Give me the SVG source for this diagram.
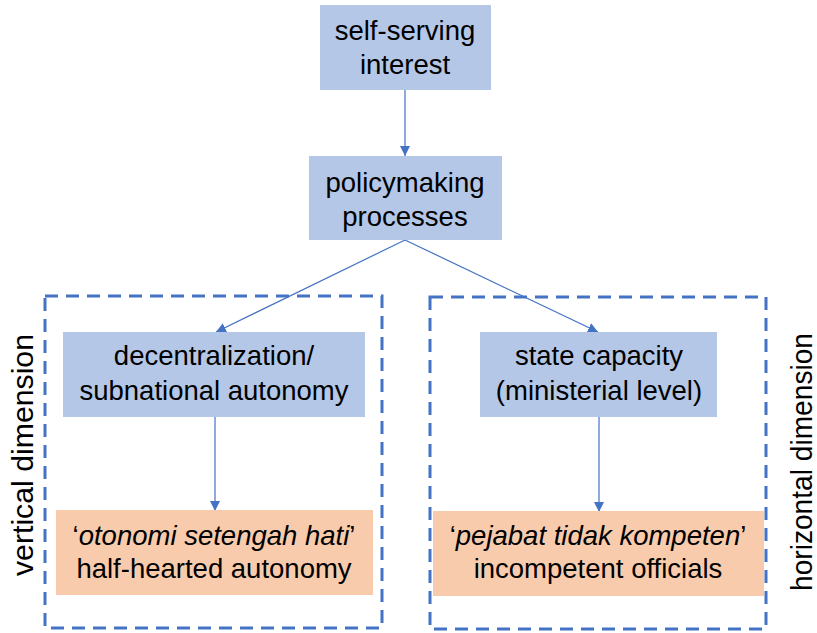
<svg xmlns="http://www.w3.org/2000/svg" width="817" height="633" viewBox="0 0 817 633">
<defs>
<marker id="ah" viewBox="0 0 10 10" refX="10" refY="5" markerWidth="10" markerHeight="10" markerUnits="userSpaceOnUse" orient="auto">
<path d="M0,0 L10,5 L0,10 z" fill="#4472C4"/>
</marker>
<style>
.blue{fill:#B4C7E7}
.orange{fill:#F8CBAD}
.dash{fill:none;stroke:#4472C4;stroke-width:3;stroke-dasharray:13 8}
.t{font-family:"Liberation Sans",Arial,sans-serif;font-size:27.5px;fill:#000;text-anchor:middle}
.i{font-style:italic}
.side{font-family:"Liberation Sans",Arial,sans-serif;font-size:29px;fill:#000;text-anchor:middle}
.conn{stroke:#4472C4;stroke-width:1.2;fill:none;marker-end:url(#ah)}
</style>
</defs>
<rect width="817" height="633" fill="#fff"/>
<g id="group-vertical">
<rect class="dash" x="45" y="296" width="337" height="332"/>
<text class="side" transform="translate(33,455) rotate(-90)" textLength="242" lengthAdjust="spacingAndGlyphs">vertical dimension</text>
</g>
<g id="group-horizontal">
<rect class="dash" x="430" y="297" width="336" height="332"/>
<text class="side" transform="translate(812,462) rotate(-90)" textLength="258" lengthAdjust="spacingAndGlyphs">horizontal dimension</text>
</g>
<g id="connectors">
<line class="conn" x1="405" y1="90" x2="405" y2="156"/>
<line class="conn" x1="405" y1="240" x2="216" y2="332"/>
<line class="conn" x1="405" y1="240" x2="598" y2="332"/>
<line class="conn" x1="215" y1="417" x2="215" y2="511"/>
<line class="conn" x1="599" y1="417" x2="599" y2="512"/>
</g>
<g id="self-serving">
<rect class="blue" x="320" y="5" width="171" height="85"/>
<text class="t" x="405" y="40">self-serving</text>
<text class="t" x="405" y="74">interest</text>
</g>
<g id="policymaking">
<rect class="blue" x="309" y="156" width="193" height="84"/>
<text class="t" x="405" y="192">policymaking</text>
<text class="t" x="405" y="226">processes</text>
</g>
<g id="decentralization">
<rect class="blue" x="63" y="332" width="302" height="85"/>
<text class="t" x="214" y="365">decentralization/</text>
<text class="t" x="214" y="400">subnational autonomy</text>
</g>
<g id="state-capacity">
<rect class="blue" x="480" y="332" width="237" height="85"/>
<text class="t" x="599" y="365">state capacity</text>
<text class="t" x="599" y="400">(ministerial level)</text>
</g>
<g id="otonomi">
<rect class="orange" x="56" y="510" width="317" height="85"/>
<text class="t" x="214" y="545">‘<tspan class="i">otonomi setengah hati</tspan>’</text>
<text class="t" x="214" y="578">half-hearted autonomy</text>
</g>
<g id="pejabat">
<rect class="orange" x="433" y="511" width="331" height="85"/>
<text class="t" x="598" y="545">‘<tspan class="i">pejabat tidak kompeten</tspan>’</text>
<text class="t" x="598" y="578">incompetent officials</text>
</g>
</svg>
